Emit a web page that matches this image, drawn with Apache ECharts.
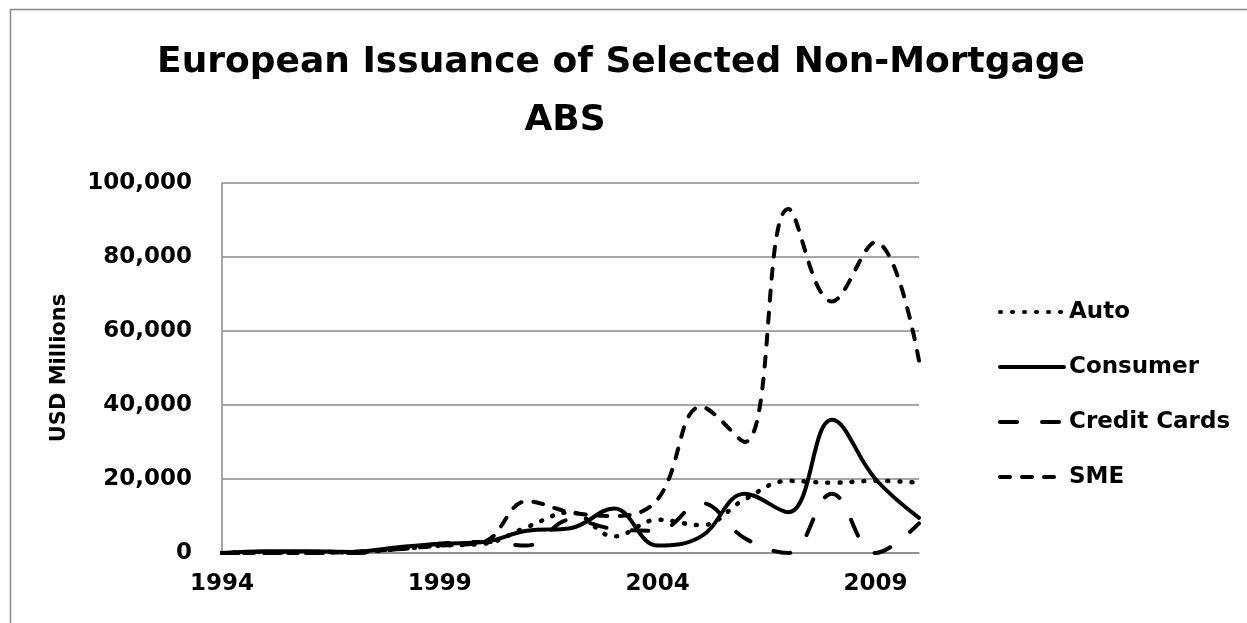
<!DOCTYPE html>
<html>
<head>
<meta charset="utf-8">
<script src="https://cdn.jsdelivr.net/npm/echarts@6/dist/echarts.min.js"></script>
<style>
  html, body { margin: 0; padding: 0; background: #fff; }
  #chart { width: 1247px; height: 623px; }
</style>
</head>
<body>
<div id="chart"></div>
<script>
const years = ["1994", "1995", "1996", "1997", "1998", "1999", "2000", "2001", "2002",
  "2003", "2004", "2005", "2006", "2007", "2008", "2009", "2010"];

// USD millions
const auto = [0, 300, 300, 200, 1000, 2000, 2500, 7000, 11000, 4500, 9000, 7500, 14500, 19500, 19000, 19500, 19000];
const consumer = [0, 500, 500, 300, 1500, 2500, 3000, 6000, 6700, 12000, 2000, 4500, 16000, 11000, 36000, 20000, 9500];
const creditCards = [0, 0, 0, 0, 1000, 2500, 3000, 2000, 9000, 6500, 6000, 13500, 4000, 0, 16000, 0, 8000];
const sme = [0, 0, 0, 300, 1000, 2000, 3000, 14000, 11000, 10000, 14500, 39500, 30000, 93000, 68000, 84000, 52000];

const FONT = "'DejaVu Sans', 'Open Sans', sans-serif";
const GRID_GRAY = "#898989";

const chart = echarts.init(document.getElementById("chart"));

function lineSeries(name, data, dash, width) {
  return {
    name: name,
    type: "line",
    data: data,
    smooth: 0.4,
    symbol: "none",
    showSymbol: false,
    lineStyle: { color: "#000", width: width || 4, type: dash, cap: "round" },
    itemStyle: { color: "#000" },
  };
}

const option = {
  backgroundColor: "#fff",
  animation: false,
  graphic: [
    {
      type: "rect",
      left: 8,
      top: 7,
      shape: { width: 1260, height: 640 },
      style: { fill: "none", stroke: GRID_GRAY, lineWidth: 1.5 },
      silent: true,
    },
  ],
  title: [
    {
      text: "European Issuance of Selected Non-Mortgage",
      left: 616,
      top: 40,
      textAlign: "center",
      textStyle: { fontFamily: FONT, fontSize: 36, fontWeight: "bold", color: "#000" },
    },
    {
      text: "ABS",
      left: 560,
      top: 98,
      textAlign: "center",
      textStyle: { fontFamily: FONT, fontSize: 36, fontWeight: "bold", color: "#000" },
    },
  ],
  legend: {
    orient: "vertical",
    left: 993,
    top: 292,
    itemWidth: 64,
    itemHeight: 14,
    itemGap: 25,
    itemStyle: { opacity: 0 },
    lineStyle: { width: 4, cap: "round" },
    textStyle: { fontFamily: FONT, fontSize: 23, fontWeight: "bold", color: "#000", lineHeight: 30 },
    data: ["Auto", "Consumer", "Credit Cards", "SME"],
  },
  grid: { left: 222, right: 328, top: 183, bottom: 70, containLabel: false },
  xAxis: {
    type: "category",
    data: years,
    boundaryGap: false,
    axisLine: { show: true, lineStyle: { color: GRID_GRAY, width: 1.5 } },
    axisTick: { show: false },
    axisLabel: {
      interval: 4,
      margin: 20,
      fontFamily: FONT,
      fontSize: 23,
      fontWeight: "bold",
      color: "#000",
    },
  },
  yAxis: {
    type: "value",
    min: 0,
    max: 100000,
    interval: 20000,
    name: "USD Millions",
    nameLocation: "middle",
    nameGap: 152,
    nameRotate: 90,
    nameTextStyle: { fontFamily: FONT, fontSize: 21, fontWeight: "bold", color: "#000" },
    axisLine: { show: true, lineStyle: { color: GRID_GRAY, width: 1.5 } },
    axisTick: { show: false },
    splitLine: { show: true, lineStyle: { color: GRID_GRAY, width: 1.5 } },
    axisLabel: {
      margin: 30,
      fontFamily: FONT,
      fontSize: 23,
      fontWeight: "bold",
      color: "#000",
      formatter: (v) => v.toLocaleString("en-US"),
    },
  },
  series: [
    lineSeries("Auto", auto, [1, 11], 4.5),
    lineSeries("Consumer", consumer, "solid"),
    lineSeries("Credit Cards", creditCards, [17, 25]),
    lineSeries("SME", sme, [10, 12]),
  ],
};

chart.setOption(option);
</script>
</body>
</html>
